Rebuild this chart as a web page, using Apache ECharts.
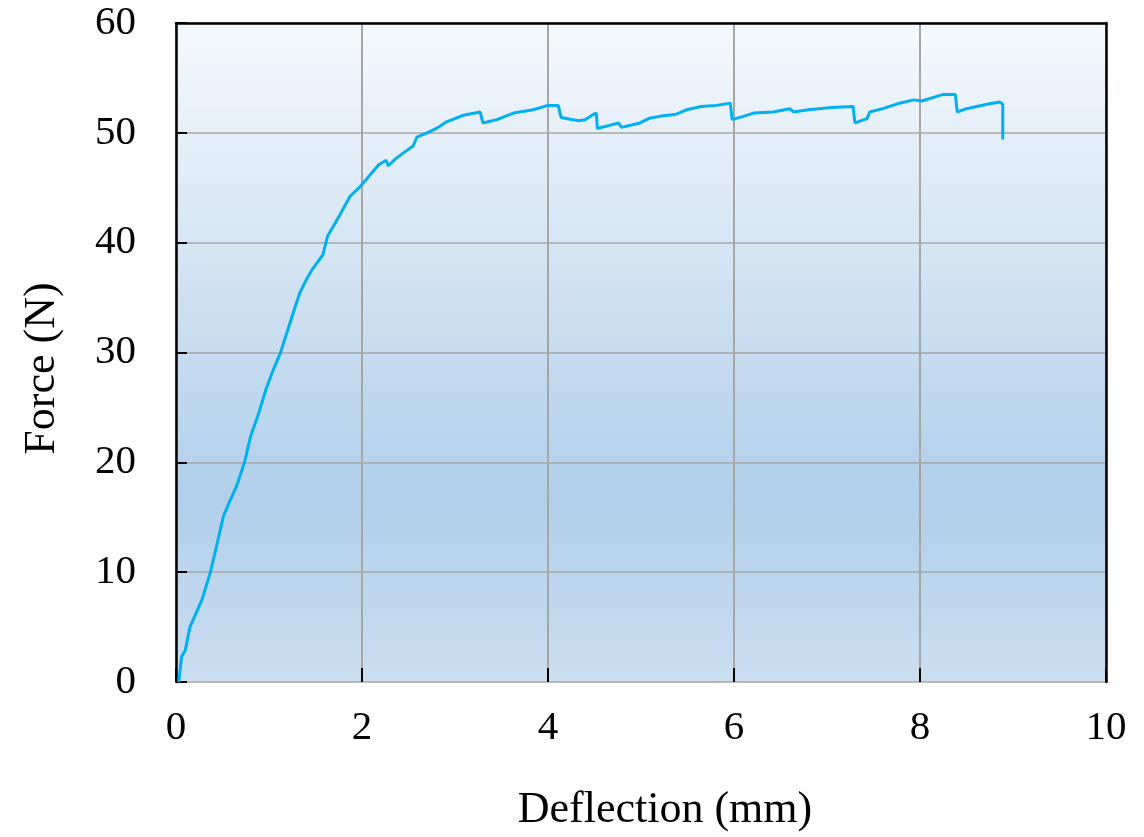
<!DOCTYPE html>
<html>
<head>
<meta charset="utf-8">
<script src="https://cdn.jsdelivr.net/npm/echarts@6/dist/echarts.min.js"></script>
<style>html,body{margin:0;padding:0;background:#fff;}#chart{width:1144px;height:837px;}</style>
</head>
<body>
<div id="chart"></div>
<script>
const deflection = [0.03,0.06,0.10,0.15,0.28,0.37,0.44,0.51,0.58,0.65,0.74,0.80,0.89,0.97,1.04,1.12,1.20,1.26,1.33,1.40,1.46,1.58,1.63,1.70,1.76,1.87,1.98,2.09,2.18,2.26,2.28,2.37,2.45,2.55,2.59,2.70,2.80,2.91,3.09,3.27,3.30,3.45,3.63,3.84,4.00,4.11,4.14,4.27,4.33,4.40,4.49,4.52,4.53,4.67,4.76,4.79,4.99,5.08,5.20,5.38,5.49,5.65,5.81,5.96,5.98,6.10,6.21,6.42,6.60,6.64,6.80,7.05,7.28,7.30,7.43,7.46,7.60,7.78,7.93,8.02,8.25,8.38,8.40,8.50,8.72,8.86,8.89,8.89];
const force = [0,2.3,2.9,5.0,7.5,10.0,12.5,15.1,16.5,17.8,20.1,22.3,24.5,26.7,28.3,29.9,32.0,33.6,35.4,36.6,37.5,38.9,40.6,41.6,42.5,44.2,45.1,46.2,47.1,47.5,47.0,47.7,48.2,48.8,49.6,50.0,50.4,51.0,51.6,51.9,50.9,51.2,51.8,52.1,52.5,52.5,51.4,51.2,51.1,51.2,51.7,51.8,50.4,50.7,50.9,50.5,50.9,51.3,51.5,51.7,52.1,52.4,52.5,52.7,51.2,51.5,51.8,51.9,52.2,51.9,52.1,52.3,52.4,50.9,51.3,51.9,52.2,52.7,53.0,52.9,53.5,53.5,51.9,52.2,52.6,52.8,52.6,49.4];
const xTicks = [0,2,4,6,8,10];
const yTicks = [0,10,20,30,40,50,60];
const xTitle = 'Deflection (mm)';
const yTitle = 'Force (N)';

const seriesData = deflection.map((x, i) => [x, force[i]]);
const font = 'Liberation Serif';

const chart = echarts.init(document.getElementById('chart'));
chart.setOption({
  animation: false,
  backgroundColor: '#ffffff',
  grid: {
    left: 176, right: 38, top: 23, bottom: 155,
    show: true, borderWidth: 0,
    backgroundColor: new echarts.graphic.LinearGradient(0, 0, 0, 1, [
      {offset: 0, color: '#f5f9fd'},
      {offset: 0.72, color: '#b1cfe9'},
      {offset: 1, color: '#cadef0'}
    ])
  },
  xAxis: [{
    type: 'value', min: xTicks[0], max: xTicks[xTicks.length-1], interval: 2,
    name: xTitle, nameLocation: 'middle', nameGap: 106,
    nameTextStyle: {fontFamily: font, fontSize: 44, color: '#000', padding: [0,0,0,48]},
    axisLine: {show: false, onZero: false},
    axisTick: {show: true, inside: true, length: 14, lineStyle: {color: '#000', width: 2}},
    axisLabel: {fontFamily: font, fontSize: 41, color: '#000', margin: 26},
    splitLine: {show: true, lineStyle: {color: '#a6a6a6', width: 2}}
  }, {
    type: 'value', position: 'top', min: 0, max: 10,
    axisLine: {show: true, onZero: false, lineStyle: {color: '#000', width: 2.5}},
    axisTick: {show: false}, axisLabel: {show: false}, splitLine: {show: false}
  }],
  yAxis: [{
    type: 'value', min: yTicks[0], max: yTicks[yTicks.length-1], interval: 10,
    name: yTitle, nameLocation: 'middle', nameGap: 112,
    nameTextStyle: {fontFamily: font, fontSize: 44, color: '#000', padding: [0,32,0,0]},
    axisLine: {show: true, onZero: false, lineStyle: {color: '#000', width: 2.5}},
    axisTick: {show: true, inside: true, length: 11, lineStyle: {color: '#000', width: 2}},
    axisLabel: {fontFamily: font, fontSize: 41, color: '#000', margin: 40},
    splitLine: {show: true, lineStyle: {color: '#a6a6a6', width: 1.5}}
  }, {
    type: 'value', position: 'right', min: 0, max: 60,
    axisLine: {show: true, onZero: false, lineStyle: {color: '#000', width: 2.5}},
    axisTick: {show: false}, axisLabel: {show: false}, splitLine: {show: false}
  }],
  series: [{
    type: 'line', xAxisIndex: 0, yAxisIndex: 0,
    data: seriesData, showSymbol: false, symbol: 'none',
    lineStyle: {color: '#00b0f0', width: 3}
  }]
});
</script>
</body>
</html>
